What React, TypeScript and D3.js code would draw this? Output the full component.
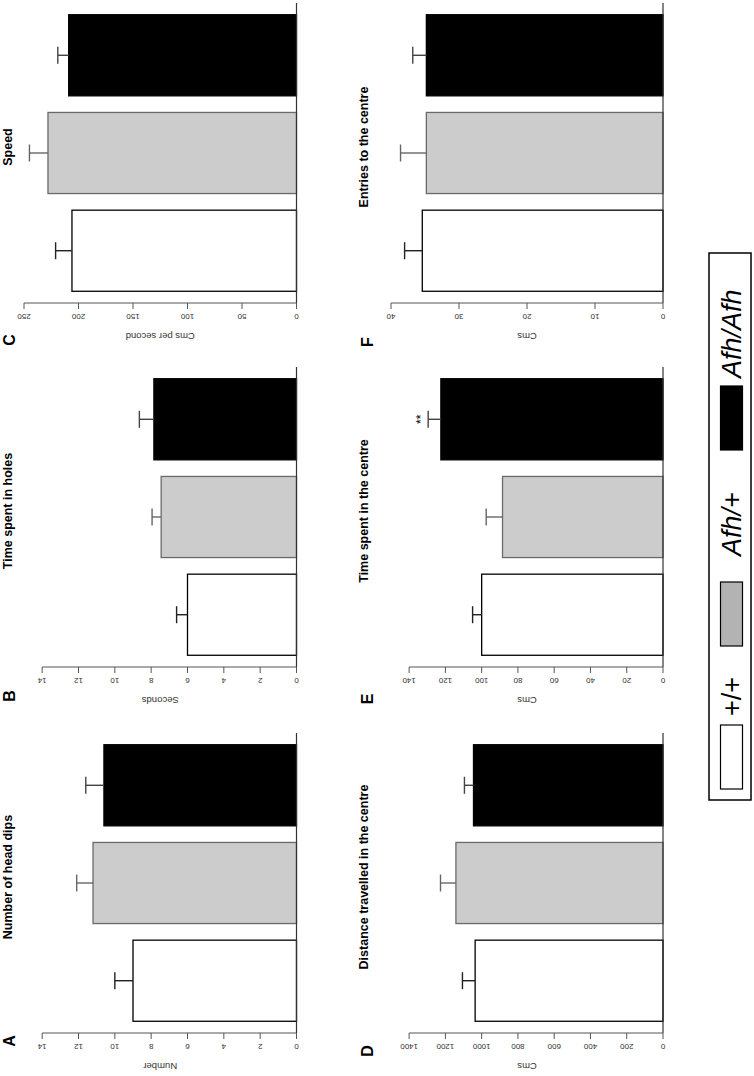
import React from 'react';
import * as d3 from 'd3';

const W = 754;
const H = 1076;
const FONT = "'Liberation Sans', Arial, Helvetica, sans-serif";

// ---------- data ----------
const genotypes = ['+/+', 'Afh/+', 'Afh/Afh'];

const headDipsMean = [9.0, 11.2, 10.6];
const headDipsErr = [1.0, 0.9, 1.0];
const ticksA = [0, 2, 4, 6, 8, 10, 12, 14];

const timeHolesMean = [6.0, 7.45, 7.85];
const timeHolesErr = [0.6, 0.5, 0.8];
const ticksB = [0, 2, 4, 6, 8, 10, 12, 14];

const speedMean = [206, 228, 209];
const speedErr = [15, 17, 10];
const ticksC = [0, 50, 100, 150, 200, 250];

const distanceMean = [1036, 1142, 1045];
const distanceErr = [70, 85, 50];
const ticksD = [0, 200, 400, 600, 800, 1000, 1200, 1400];

const timeCentreMean = [100, 88.5, 122.5];
const timeCentreErr = [5, 9, 7];
const ticksE = [0, 20, 40, 60, 80, 100, 120, 140];

const entriesMean = [35.4, 34.8, 34.8];
const entriesErr = [2.6, 3.8, 2.0];
const ticksF = [0, 10, 20, 30, 40];

const letters = ['A', 'B', 'C', 'D', 'E', 'F'];
const titles = [
  'Number of head dips',
  'Time spent in holes',
  'Speed',
  'Distance travelled in the centre',
  'Time spent in the centre',
  'Entries to the centre',
];
const axisTitles = ['Number', 'Seconds', 'Cms per second', 'Cms', 'Cms', 'Cms'];
const domainMax = [15, 15, 250, 1500, 150, 40];

// ---------- styles ----------
const fills = ['#ffffff', '#cccccc', '#000000'];
const outlines = ['#000000', '#6a6a6a', '#000000'];
const errColors = ['#222222', '#666666', '#444444'];
const legendFills = ['#ffffff', '#b3b3b3', '#000000'];

// layout in un-rotated frame (width = H, height = W)
const colX = [43, 409, 773];
const rowBase = [296.5, 663];
const rowTop = [24, 391];
const titleY = [12, 368];
const letterX = [35, 380, 736, 25, 377, 734];
const letterY = [15, 373];

const panels = [
  { mean: headDipsMean, err: headDipsErr, ticks: ticksA, col: 0, row: 0, star: '' },
  { mean: timeHolesMean, err: timeHolesErr, ticks: ticksB, col: 1, row: 0, star: '' },
  { mean: speedMean, err: speedErr, ticks: ticksC, col: 2, row: 0, star: '' },
  { mean: distanceMean, err: distanceErr, ticks: ticksD, col: 0, row: 1, star: '' },
  { mean: timeCentreMean, err: timeCentreErr, ticks: ticksE, col: 1, row: 1, star: '**' },
  { mean: entriesMean, err: entriesErr, ticks: ticksF, col: 2, row: 1, star: '' },
];

function Panel({ p, i }: { p: any; i: number }) {
  const x0 = colX[p.col];
  const x = d3
    .scaleBand()
    .domain(genotypes)
    .range([x0, x0 + 300])
    .paddingInner(0.17)
    .paddingOuter(0.12);
  const y = d3.scaleLinear().domain([0, domainMax[i]]).range([rowBase[p.row], rowTop[p.row]]);
  const bw = x.bandwidth();
  const lastTick = p.ticks[p.ticks.length - 1];
  const midX = x0 + 150;
  const midY = (rowTop[p.row] + rowBase[p.row]) / 2;
  return (
    <g>
      {/* title */}
      <text x={midX + 6} y={titleY[p.row]} textAnchor="middle" fontSize={12.5} fontWeight="bold" fontFamily={FONT}>
        {titles[i]}
      </text>
      {/* panel letter */}
      <text x={letterX[i]} y={letterY[p.row]} textAnchor="middle" fontSize={16} fontWeight="bold" fontFamily={FONT}>
        {letters[i]}
      </text>
      {/* bars */}
      {genotypes.map((g, k) => (
        <rect
          key={g}
          x={x(g)}
          y={y(p.mean[k])}
          width={bw}
          height={y(0) - y(p.mean[k])}
          fill={fills[k]}
          stroke={outlines[k]}
          strokeWidth={1.3}
        />
      ))}
      {/* error bars */}
      {genotypes.map((g, k) => {
        const cx = (x(g) as number) + bw / 2;
        const top = y(p.mean[k] + p.err[k]);
        return (
          <g key={'e' + g} stroke={errColors[k]} strokeWidth={1.4}>
            <line x1={cx} x2={cx} y1={y(p.mean[k])} y2={top} />
            <line x1={cx - 8.5} x2={cx + 8.5} y1={top} y2={top} />
          </g>
        );
      })}
      {p.star ? (
        <text
          x={(x(genotypes[2]) as number) + bw / 2}
          y={y(p.mean[2] + p.err[2]) - 3.5}
          textAnchor="middle"
          fontSize={12}
          fontFamily={FONT}
        >
          {p.star}
        </text>
      ) : null}
      {/* baseline */}
      <line x1={x0} x2={x0 + 300} y1={y(0)} y2={y(0)} stroke="#333" strokeWidth={1.2} />
      {/* value axis */}
      <line x1={x0} x2={x0} y1={y(0)} y2={y(lastTick)} stroke="#555" strokeWidth={1} />
      {p.ticks.map((t: number) => (
        <g key={t}>
          <line x1={x0} x2={x0 - 6} y1={y(t)} y2={y(t)} stroke="#555" strokeWidth={1} />
          <text
            x={x0 - 13}
            y={y(t)}
            transform={`rotate(-90, ${x0 - 13}, ${y(t)})`}
            textAnchor="middle"
            dominantBaseline="central"
            fontSize={8}
            fill="#333"
            fontFamily={FONT}
          >
            {t}
          </text>
        </g>
      ))}
      <text
        x={x0 - 33}
        y={midY}
        transform={`rotate(-90, ${x0 - 33}, ${midY})`}
        textAnchor="middle"
        dominantBaseline="central"
        fontSize={9.5}
        fill="#333"
        fontFamily={FONT}
      >
        {axisTitles[i]}
      </text>
    </g>
  );
}

// legend positions (un-rotated frame)
const legendBox = { x: 276, y: 709, w: 547, h: 42 };
const legendSwatchX = [287, 430, 626];
const legendTextX = [360, 520, 698];

export default function App() {
  return (
    <svg
      width={W}
      height={H}
      style={{ position: 'absolute', left: 0, top: 0, background: '#fff' }}
    >
      <rect x={0} y={0} width={W} height={H} fill="#fff" />
      <g transform={`translate(0, ${H}) rotate(-90)`}>
        {panels.map((p, i) => (
          <Panel key={i} p={p} i={i} />
        ))}
        <rect
          x={legendBox.x}
          y={legendBox.y}
          width={legendBox.w}
          height={legendBox.h}
          fill="#fff"
          stroke="#000"
          strokeWidth={1.5}
        />
        {genotypes.map((g, k) => (
          <g key={g}>
            <rect
              x={legendSwatchX[k]}
              y={720.5}
              width={64}
              height={22}
              fill={legendFills[k]}
              stroke="#000"
              strokeWidth={1.2}
            />
            <text x={legendTextX[k]} y={740.5} fontSize={27} fontFamily={FONT}>
              {g === '+/+' ? (
                g
              ) : g === 'Afh/+' ? (
                <tspan fontStyle="italic">Afh/+</tspan>
              ) : (
                <tspan fontStyle="italic">Afh/Afh</tspan>
              )}
            </text>
          </g>
        ))}
      </g>
    </svg>
  );
}
